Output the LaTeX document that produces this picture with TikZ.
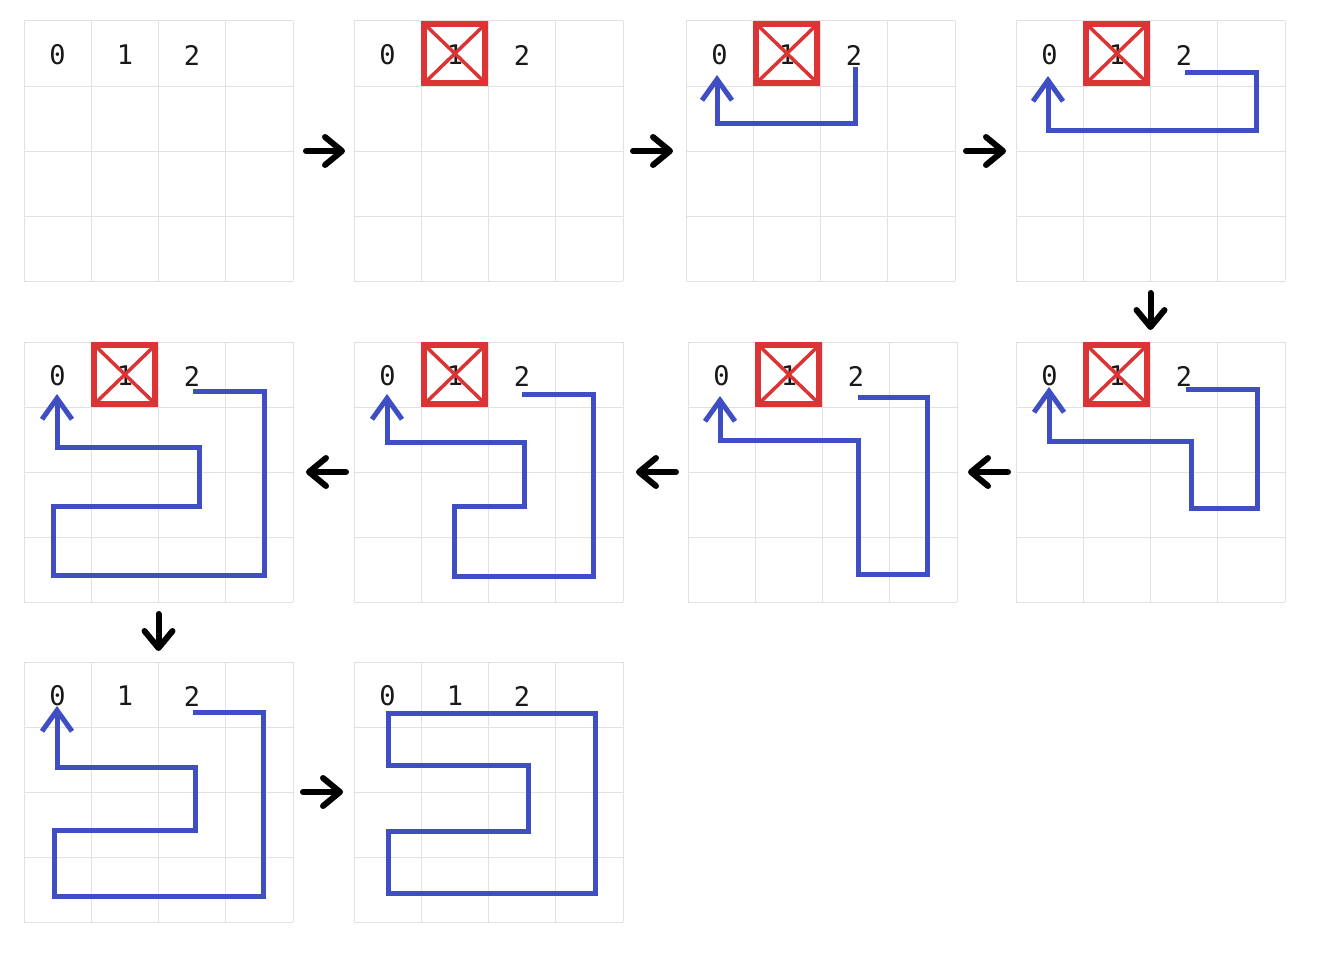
\documentclass[tikz,border=0pt]{standalone}
\usepackage{fontspec}
\setmonofont{DejaVu Sans Mono}
\usetikzlibrary{arrows.meta}
\definecolor{pathblue}{RGB}{64,78,196}
\definecolor{xred}{RGB}{220,52,52}
\definecolor{gridgray}{RGB}{224,224,230}
\tikzset{
  panelbox/.style={minimum width=269pt, minimum height=260pt, inner sep=0pt, outer sep=0pt},
  gridline/.style={draw=gridgray, line width=1pt},
  lab/.style={font=\ttfamily\fontsize{27}{27}\selectfont, text=black!90, inner sep=0pt},
  flow/.style={line width=6pt, line cap=round, -{Straight Barb[length=17pt,width=28pt,round]}},
  route/.style={draw=pathblue, line width=5pt},
  routeend/.style={route, -{Straight Barb[length=21pt,width=30pt]}},
  blocked/.style={draw=xred, line width=6pt, minimum width=61pt, minimum height=59pt, inner sep=0pt, outer sep=0pt},
  cross/.style={draw=xred, line width=3.5pt},
}
\newcommand\gridpanel[3]{%
  \node[panelbox] (#1) at (#2+134.5,#3+130) {};
  \foreach \i in {0,...,4} {\draw[gridline] ({#2+\i*67.25},#3) -- ({#2+\i*67.25},#3+260);}
  \foreach \j in {0,...,4} {\draw[gridline] (#2,{#3+\j*65}) -- (#2+269,{#3+\j*65});}
  \node[lab] (#1-0) at (#2+33.6,#3+34) {0};
  \node[lab] (#1-1) at (#2+100.9,#3+34) {1};
  \node[lab] (#1-2) at (#2+168.1,#3+34) {2};
}
\newcommand\blockcell[3]{%
  \node[blocked] (#1-x) at (#2+100.9,#3+32.5) {};
  \draw[cross] (#1-x.north west) -- (#1-x.south east);
  \draw[cross] (#1-x.north east) -- (#1-x.south west);
}
\begin{document}
\begin{tikzpicture}[x=1pt,y=-1pt]
\fill[white] (0,0) rectangle (1324,966);
\useasboundingbox (0,0) rectangle (1324,966);

% row 1
\gridpanel{p1}{24}{21}
\gridpanel{p2}{354}{21}\blockcell{p2}{354}{21}
\gridpanel{p3}{686}{21}\blockcell{p3}{686}{21}
\gridpanel{p4}{1016}{21}\blockcell{p4}{1016}{21}
% row 2
\gridpanel{p5}{24}{342}\blockcell{p5}{24}{342}
\gridpanel{p6}{354}{342}\blockcell{p6}{354}{342}
\gridpanel{p7}{688}{342}\blockcell{p7}{688}{342}
\gridpanel{p8}{1016}{342}\blockcell{p8}{1016}{342}
% row 3
\gridpanel{p9}{24}{662}
\gridpanel{p10}{354}{662}

% routes
\draw[routeend] (855,67) -- (855,123) -- (717,123) -- (717,75);
\draw[routeend] (1185,72) -- (1256,72) -- (1256,130) -- (1048,130) -- (1048,76);
\draw[routeend] (1186,389) -- (1257,389) -- (1257,508) -- (1191,508) -- (1191,441) -- (1049,441) -- (1049,387);
\draw[routeend] (858,397) -- (927,397) -- (927,574) -- (858,574) -- (858,440) -- (720,440) -- (720,396);
\draw[routeend] (522,394) -- (593,394) -- (593,576) -- (454,576) -- (454,506) -- (524,506) -- (524,442) -- (387,442) -- (387,394);
\draw[routeend] (193,391) -- (264,391) -- (264,575) -- (53,575) -- (53,506) -- (199,506) -- (199,447) -- (57,447) -- (57,394);
\draw[routeend] (193,712) -- (263,712) -- (263,896) -- (54,896) -- (54,830) -- (195,830) -- (195,767) -- (57,767) -- (57,706);
\draw[route] (388,713) -- (595,713) -- (595,893) -- (388,893) -- (388,831) -- (528,831) -- (528,765) -- (388,765) -- cycle;

% flow arrows
\draw[flow, shorten <=13pt, shorten >=9pt] (p1.east) -- (p2.west);
\draw[flow, shorten <=10pt, shorten >=13pt] (p2.east) -- (p3.west);
\draw[flow, shorten <=11pt, shorten >=10pt] (p3.east) -- (p4.west);
\draw[flow, shorten <=12pt, shorten >=12pt] (p4.south) -- (p8.north);
\draw[flow, shorten <=8pt, shorten >=11pt] (p8.west) -- (p7.east);
\draw[flow, shorten <=12pt, shorten >=13pt] (p7.west) -- (p6.east);
\draw[flow, shorten <=8pt, shorten >=13pt] (p6.west) -- (p5.east);
\draw[flow, shorten <=12pt, shorten >=11pt] (p5.south) -- (p9.north);
\draw[flow, shorten <=10pt, shorten >=11pt] (p9.east) -- (p10.west);
\end{tikzpicture}
\end{document}
